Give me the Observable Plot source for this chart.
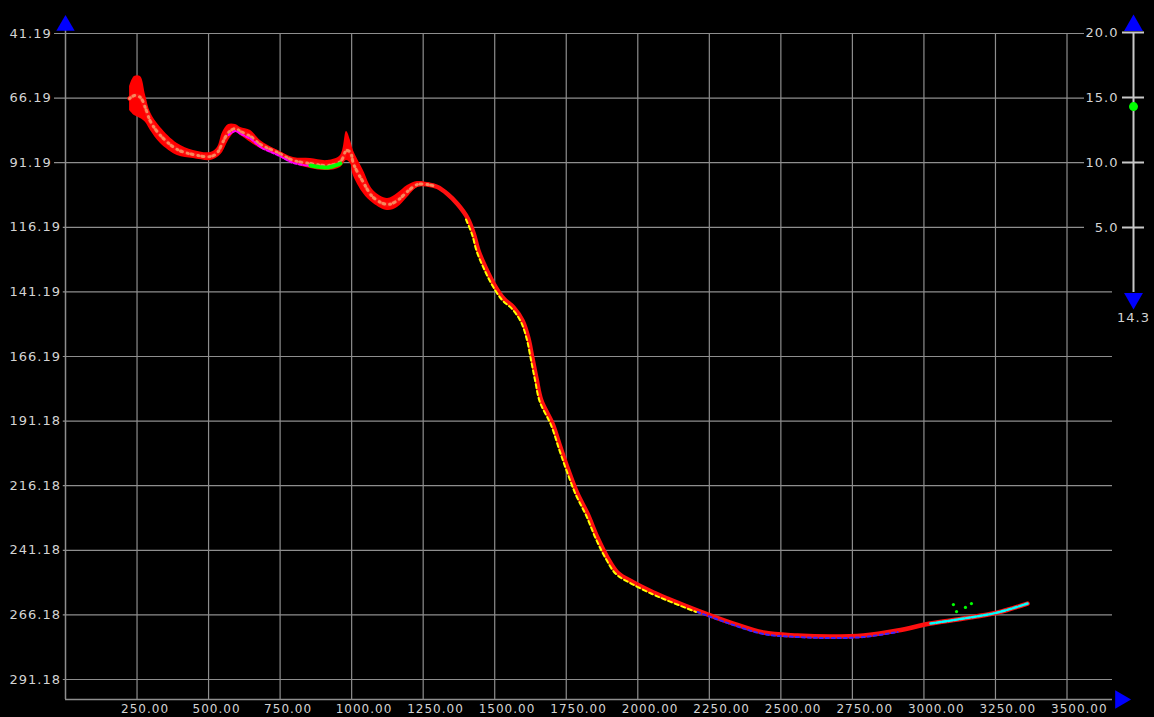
<!DOCTYPE html>
<html><head><meta charset="utf-8">
<script src="https://cdn.jsdelivr.net/npm/d3@7"></script>
<script src="https://cdn.jsdelivr.net/npm/@observablehq/plot@0.6"></script>
<style>
html,body{margin:0;padding:0;background:#000;}
#wrap{position:relative;width:1154px;height:717px;overflow:hidden;background:#000;}
#wrap svg{position:absolute;left:0;top:0;}
#wrap text{letter-spacing:1px;}
</style></head><body><div id="wrap"></div>
<script>
// ---- tick labels ----
const xTicks = [250, 500, 750, 1000, 1250, 1500, 1750, 2000, 2250, 2500, 2750, 3000, 3250, 3500];
const yTicks = [41.19, 66.19, 91.19, 116.19, 141.19, 166.19, 191.18, 216.18, 241.18, 266.18, 291.18];
const sliderTicks = [20, 15, 10, 5];
const sliderValue = 14.3;

// ---- centre trace of the point cloud (distance, depth) ----
const traceDist = [224, 241, 262, 280, 297, 332, 391, 447, 507, 531, 549, 570, 594, 612, 647, 681, 741, 797, 856, 916, 961, 982, 996, 1006, 1041, 1076, 1125, 1160, 1195, 1230, 1265, 1300, 1335, 1370, 1405, 1426, 1443, 1468, 1496, 1531, 1566, 1597, 1618, 1632, 1646, 1663, 1702, 1730, 1758, 1789, 1824, 1859, 1894, 1929, 1985, 2055, 2104, 2209, 2324, 2439, 2558, 2673, 2789, 2908, 3023, 3138, 3257, 3362];
const traceDepth = [66.35, 65.18, 65.96, 70.22, 75.25, 80.66, 86.08, 88.02, 88.79, 87.24, 83.37, 79.50, 77.96, 79.12, 81.05, 84.15, 87.24, 90.34, 91.50, 92.27, 90.73, 86.47, 87.24, 91.50, 98.85, 104.66, 107.37, 105.82, 102.34, 99.63, 99.63, 100.59, 103.30, 107.17, 112.59, 118.40, 125.17, 131.75, 137.94, 143.75, 147.23, 152.26, 159.23, 166.97, 174.71, 183.22, 192.12, 201.41, 210.31, 219.21, 226.95, 236.24, 243.98, 249.78, 253.65, 257.52, 259.85, 264.49, 269.13, 273.00, 274.16, 274.55, 274.16, 272.23, 269.52, 267.59, 265.26, 261.78];

// ---- spread of the cloud where it is wide (distance, upper depth, lower depth) ----
const bandDist = [224, 241, 262, 280, 297, 332, 391, 447, 507, 531, 549, 570, 594, 612, 647, 681, 741, 797, 856, 916, 961, 982, 996, 1006, 1041, 1076, 1125, 1160, 1195, 1230, 1265, 1300];
const bandTop = [61.70, 57.83, 57.83, 65.18, 71.76, 77.57, 83.76, 86.47, 87.24, 85.31, 79.50, 76.41, 76.41, 77.57, 78.73, 82.60, 86.47, 89.18, 89.57, 90.34, 88.40, 79.12, 82.60, 86.47, 94.21, 101.95, 105.05, 103.11, 100.01, 98.47, 98.85, 100.01];
const bandBottom = [70.99, 72.92, 74.09, 75.63, 78.73, 83.76, 88.40, 89.57, 90.34, 89.18, 87.24, 82.60, 79.50, 80.66, 83.37, 85.70, 88.40, 91.50, 93.44, 94.21, 93.05, 90.34, 91.50, 96.14, 103.11, 106.98, 109.69, 108.53, 104.66, 100.79, 100.40, 101.18];

// ---- other channels visible along the trace (distance ranges) ----
const channelName = ["ch2", "ch3", "ch4", "ch5", "ch6", "ch7"];
const channelFrom = [224, 1400, 560, 820, 2150, 2950];
const channelTo = [1300, 2210, 900, 961, 2910, 3362];

// ---- stray green returns near the end ----
const strayDist = [3103, 3114, 3145, 3166];
const strayDepth = [262.2, 264.9, 263.3, 261.8];

// ---------------- build ----------------
const trace = traceDist.map((d, i) => ({dist: d, depth: traceDepth[i]}));
const band = bandDist.map((d, i) => ({dist: d, top: bandTop[i], bottom: bandBottom[i]}));
const stray = strayDist.map((d, i) => ({dist: d, depth: strayDepth[i]}));

const W = 1154, H = 717;
const mL = 65, mR = 42, mT = 33, mB = 18;
const xMax = 3659;
const yBottom = 298.92;
const pxPerX = (W - mL - mR) / xMax;
const xAtPx = px => (px - mL) / pxPerX;

const grid = "#8e8e8e";
const txt = "#d4d4d4";
const font = "DejaVu Sans";

const style = {
  ch2: {stroke: "#f0d890", width: 3, dash: "1,3,2,5", dx: 0, dy: 0, op: 0.6},
  ch3: {stroke: "#ffff00", width: 2, dash: "4,3", dx: -1.5, dy: 1.5, op: 1},
  ch4: {stroke: "#ff00ff", width: 2, dash: "3,2", dx: 0, dy: 2.5, op: 1},
  ch5: {stroke: "#00ff00", width: 4, dash: "3,1", dx: 0, dy: 2, op: 1},
  ch6: {stroke: "#3a24ff", width: 2, dash: "3,3", dx: 0, dy: 1.5, op: 1},
  ch7: {stroke: "#00ffff", width: 2.5, dash: "4,2", dx: 0, dy: 0, op: 1}
};

const channelMarks = channelName.map((name, i) => {
  const s = style[name];
  const seg = trace.filter(d => d.dist >= channelFrom[i] && d.dist <= channelTo[i]);
  return Plot.line(seg, {x: "dist", y: "depth", curve: "catmull-rom", stroke: s.stroke,
    strokeWidth: s.width, strokeDasharray: s.dash, dx: s.dx, dy: s.dy, strokeOpacity: s.op});
});

// gridline extents: start after left labels, stop before slider labels
const yRows = yTicks.map((v, i) => {
  const lab = v.toFixed(2);
  return {v, lab, x1: xAtPx(10 + 8.8 * lab.length), x2: i < sliderTicks.length ? xAtPx(1084) : xMax};
});

const main = Plot.plot({
  width: W, height: H,
  marginLeft: mL, marginRight: mR, marginTop: mT, marginBottom: mB,
  x: {domain: [0, xMax], axis: null},
  y: {domain: [yTicks[0], yBottom], reverse: true, axis: null},
  style: {background: "#000", fontFamily: font},
  marks: [
    Plot.ruleX(xTicks, {x: d => d, y1: yTicks[0], y2: yBottom, stroke: grid, strokeWidth: 1.2}),
    Plot.ruleY(yRows, {y: "v", x1: "x1", x2: "x2", stroke: grid, strokeWidth: 1.2}),
    Plot.ruleX([0], {y1: yTicks[0] - 1.5, y2: yBottom, stroke: grid, strokeWidth: 1.5}),
    Plot.ruleY([yBottom], {x1: 0, x2: xMax, stroke: grid, strokeWidth: 1.5}),
    Plot.dot([0], {x: d => d, y: yTicks[0], symbol: "triangle", r: 6.8, fill: "#0000ff", dy: -8}),
    Plot.dot([xMax], {x: d => d, y: yBottom, symbol: "triangle", r: 6.8, fill: "#0000ff", rotate: 90, dx: 8}),
    Plot.areaY(band, {x: "dist", y1: "top", y2: "bottom", fill: "#ff0000", curve: "catmull-rom"}),
    Plot.line(trace, {x: "dist", y: "depth", stroke: "#ff1010", strokeWidth: 4.5, curve: "catmull-rom"}),
    ...channelMarks,
    Plot.dot(stray, {x: "dist", y: "depth", r: 1.6, fill: "#00ff00"}),
    Plot.text(yRows, {x: 0, y: "v", text: "lab", textAnchor: "start", dx: -56, fill: txt,
      fontSize: 13, fontFamily: font}),
    Plot.text(xTicks, {x: d => d, y: yBottom, text: d => d.toFixed(2), textAnchor: "start", dx: -16, dy: 10,
      fill: txt, fontSize: 12, fontFamily: font})
  ]
});

const slider = Plot.plot({
  width: W, height: H,
  marginTop: 32, marginBottom: 425, marginLeft: 0, marginRight: 0,
  x: {domain: [0, 1], range: [1122, 1144], axis: null},
  y: {domain: [0, 20], axis: null},
  style: {background: "transparent", fontFamily: font},
  marks: [
    Plot.ruleX([0.5], {x: d => d, y1: 0, y2: 20, stroke: "#c8c8c8", strokeWidth: 2}),
    Plot.ruleY(sliderTicks, {y: d => d, x1: 0, x2: 1, stroke: "#c8c8c8", strokeWidth: 2}),
    Plot.text(sliderTicks, {x: 0, y: d => d, text: d => d.toFixed(1), textAnchor: "end", dx: -4,
      fill: txt, fontSize: 13, fontFamily: font}),
    Plot.dot([20], {x: 0.5, y: d => d, symbol: "triangle", r: 7, fill: "#0000ff", dy: -7}),
    Plot.dot([0], {x: 0.5, y: d => d, symbol: "triangle", r: 7, fill: "#0000ff", rotate: 180, dy: 6}),
    Plot.dot([sliderValue], {x: 0.5, y: d => d, r: 4.5, fill: "#00ff00"}),
    Plot.text([sliderValue], {x: 0.5, y: 0, text: d => d.toFixed(1), dy: 25, fill: txt, fontSize: 13, fontFamily: font})
  ]
});

const wrap = document.getElementById("wrap");
wrap.appendChild(main);
wrap.appendChild(slider);
</script></body></html>
